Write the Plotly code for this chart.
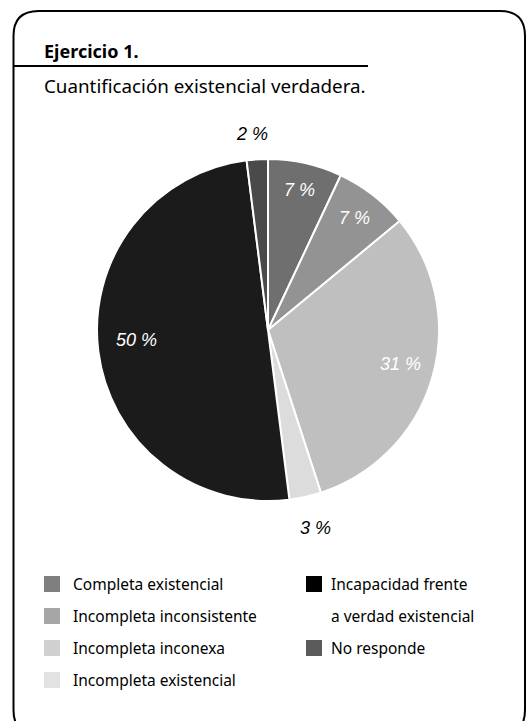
import math
import plotly.graph_objects as go

categories = ["Completa existencial", "Incompleta inconsistente", "Incompleta inconexa",
              "Incompleta existencial", "Incapacidad frente a verdad existencial", "No responde"]
values = [7, 7, 31, 3, 50, 2]
slice_colors = ["#6f6f6f", "#939393", "#bfbfbf", "#dcdcdc", "#1b1b1b", "#4a4a4a"]
legend_colors = ["#7f7f7f", "#a6a6a6", "#d0d0d0", "#e3e3e3", "#000000", "#5a5a5a"]

# label placement (styling): radial position as fraction of pie radius, angle tweak in degrees
label_r = [0.84, 0.83, 0.80, 1.19, 0.77, 1.15]
label_dtheta = [0, 0, -2, -1, 3, -1]
label_colors = ["white", "white", "white", "black", "white", "black"]

W, H = 526, 721
cx, cy, R = 268, 330, 171

fig = go.Figure()
fig.add_trace(go.Pie(
    labels=categories, values=values, sort=False, direction="clockwise", rotation=0,
    marker=dict(colors=slice_colors, line=dict(color="white", width=2)),
    textinfo="none", showlegend=False, hoverinfo="skip",
    domain=dict(x=[(cx - R) / W, (cx + R) / W], y=[(H - cy - R) / H, (H - cy + R) / H]),
))

shapes = []
r = 25
x0, y0, x1, y1 = 13.5, 11, 525, 735
shapes.append(dict(type="path", xref="x", yref="y",
                   path=(f"M {x0+r},{y0} L {x1-r},{y0} Q {x1},{y0} {x1},{y0+r} "
                         f"L {x1},{y1-r} Q {x1},{y1} {x1-r},{y1} L {x0+r},{y1} "
                         f"Q {x0},{y1} {x0},{y1-r} L {x0},{y0+r} Q {x0},{y0} {x0+r},{y0} Z"),
                   line=dict(color="black", width=2), fillcolor="rgba(0,0,0,0)"))
shapes.append(dict(type="line", xref="x", yref="y", x0=13, x1=368, y0=66, y1=66,
                   line=dict(color="black", width=2)))

annotations = [
    dict(text="<b>Ejercicio 1.</b>", x=42, y=51, xref="x", yref="y", xanchor="left",
         yanchor="middle", showarrow=False, font=dict(family="Noto Sans", size=18, color="black")),
    dict(text="Cuantificación existencial verdadera.", x=42, y=86, xref="x", yref="y",
         xanchor="left", yanchor="middle", showarrow=False,
         font=dict(family="Noto Sans", size=18.8, color="black")),
]

# slice labels at the mid-angle of each slice (from cumulative shares)
total = sum(values)
acc = 0
for v, lr, dt, col in zip(values, label_r, label_dtheta, label_colors):
    theta = math.radians((acc + v / 2) / total * 360 + dt)
    acc += v
    annotations.append(dict(
        text=f"{v} %", x=cx + lr * R * math.sin(theta), y=cy - lr * R * math.cos(theta),
        xref="x", yref="y", xanchor="center", yanchor="middle", showarrow=False,
        font=dict(family="Liberation Sans", size=18, color=col, style="italic")))

LF = dict(family="Noto Sans", size=15.5, color="black")
rows_y = [584, 616, 648, 680]
for i, row in zip([0, 1, 2, 3], rows_y):
    shapes.append(dict(type="rect", xref="x", yref="y", x0=44, x1=60, y0=row - 8, y1=row + 8,
                       fillcolor=legend_colors[i], line=dict(width=0)))
    annotations.append(dict(text=categories[i], x=71, y=row, xref="x", yref="y",
                            xanchor="left", yanchor="middle", showarrow=False, font=LF))
for i, row in [(4, 584), (5, 648)]:
    shapes.append(dict(type="rect", xref="x", yref="y", x0=306, x1=322, y0=row - 8, y1=row + 8,
                       fillcolor=legend_colors[i], line=dict(width=0)))
annotations.append(dict(text="Incapacidad frente", x=329, y=584, xref="x", yref="y",
                        xanchor="left", yanchor="middle", showarrow=False, font=LF))
annotations.append(dict(text="a verdad existencial", x=329, y=616, xref="x", yref="y",
                        xanchor="left", yanchor="middle", showarrow=False, font=LF))
annotations.append(dict(text=categories[5], x=329, y=648, xref="x", yref="y",
                        xanchor="left", yanchor="middle", showarrow=False, font=LF))

fig.update_layout(
    width=W, height=H, margin=dict(l=0, r=0, t=0, b=0),
    paper_bgcolor="white", plot_bgcolor="rgba(0,0,0,0)",
    xaxis=dict(range=[0, W], visible=False, fixedrange=True),
    yaxis=dict(range=[H, 0], visible=False, fixedrange=True),
    shapes=shapes, annotations=annotations,
)
fig.write_html("out.html", config={"displayModeBar": False},
               post_script="document.body.style.margin='0';")
